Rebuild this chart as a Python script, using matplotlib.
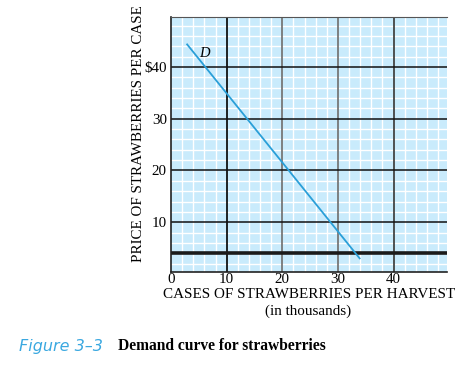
import matplotlib
matplotlib.use("Agg")
import matplotlib.pyplot as plt
import numpy as np

# Data
quantity = [2.9, 33.9]        # thousands of cases
price = [44.4, 3.0]           # $ per case
x_ticks = [0, 10, 20, 30, 40]
x_tick_labels = ["0", "10", "20", "30", "40"]
y_ticks = [10, 20, 30, 40]
y_tick_labels = ["10", "20", "30", "$40"]
baseline_price = 4

plt.rcParams['font.family'] = ['Liberation Serif', 'DejaVu Serif']

fig = plt.figure(figsize=(4.56, 3.67), dpi=100)
W, H = 456, 367
L, R, T, B = 171, 447, 16.5, 272.3
ax = fig.add_axes([L / W, 1 - B / H, (R - L) / W, (B - T) / H])
ax.set_xlim(0, 49.6)
ax.set_ylim(0.3, 49.8)
ax.set_facecolor("#c9ebfc")

# minor white grid
ax.set_xticks(np.arange(0, 50, 2), minor=True)
ax.set_yticks(np.arange(2, 50, 2), minor=True)
ax.grid(which="minor", color="white", lw=1.0)
ax.tick_params(which="both", length=0)

# major grid lines
vcolors = ["#111111", "#777777", "#777777", "#444444"]
for xv, c in zip(x_ticks[1:], vcolors):
    ax.axvline(xv, color=c, lw=1.3, zorder=2)
for yv in y_ticks:
    ax.axhline(yv, color="#111111", lw=1.1, zorder=2)
ax.axhline(baseline_price, color="#1a1a1a", lw=2.6, zorder=2)

ax.plot(quantity, price, color="#2a9fd8", lw=1.3, zorder=3)
ax.text(6.1, 42.7, "D", style="italic", fontsize=10.5, ha="center", va="center", zorder=4)

ax.set_xticks(x_ticks)
ax.set_xticklabels(x_tick_labels, fontsize=10.8)
ax.set_yticks(y_ticks)
ax.set_yticklabels(y_tick_labels, fontsize=10.8)
ax.tick_params(axis="x", pad=0.5)
ax.tick_params(axis="y", pad=3)

for s in ["left", "bottom"]:
    ax.spines[s].set_color("#222222")
    ax.spines[s].set_linewidth(1.2)
ax.spines["top"].set_color("#555555")
ax.spines["top"].set_linewidth(0.8)
ax.spines["right"].set_visible(False)

fig.text(309 / W, 1 - 295 / H, "CASES OF STRAWBERRIES PER HARVEST", ha="center", va="center", fontsize=10.9)
fig.text(308 / W, 1 - 311 / H, "(in thousands)", ha="center", va="center", fontsize=10.9)
fig.text(139 / W, 1 - 134 / H, "PRICE OF STRAWBERRIES PER CASE", ha="center", va="center",
         rotation=90, fontsize=10.8)

fig.text(19 / W, 1 - 346 / H, "Figure 3\u20133", ha="left", va="center", fontsize=11.5,
         style="italic", color="#3aa8e0", family=["DejaVu Sans"], fontweight="light")
fig.text(118 / W, 1 - 346 / H, "Demand curve for strawberries", ha="left", va="center",
         fontsize=11.2, fontweight="bold")

fig.savefig("out.png", dpi=100)
